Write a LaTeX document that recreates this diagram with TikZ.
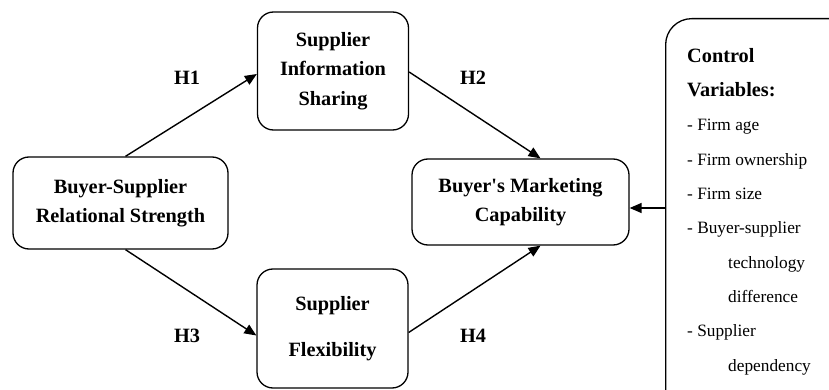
\documentclass[tikz,border=0pt]{standalone}
\usepackage{fontspec}
\setmainfont{Liberation Serif}
\usetikzlibrary{arrows.meta}
\begin{document}
\begin{tikzpicture}[x=1pt,y=-1pt,
  box/.style={draw, line width=1.3pt, rounded corners=16pt, align=center,
    font=\bfseries\fontsize{20.3}{29.5}\selectfont},
  arr/.style={line width=1.4pt, -{Triangle[length=12pt,width=10pt]}},
  hyp/.style={font=\bfseries\fontsize{20.3}{24}\selectfont},
  ctrltext/.style={align=left, inner sep=0pt,
    font=\fontsize{17.3}{34.3}\selectfont}]
  \useasboundingbox (0,0) rectangle (829,390);
  \clip (0,0) rectangle (829,390);

  % model constructs
  \node[box, minimum width=151pt, minimum height=118pt] (sis) at (333,71)
    {Supplier\\Information\\Sharing};
  \node[box, minimum width=215pt, minimum height=92pt] (bsr) at (120.5,203)
    {Buyer-Supplier\\Relational Strength};
  \node[box, minimum width=151pt, minimum height=119pt] (sf) at (332.5,328.5)
    {Supplier\\[17pt]Flexibility};
  \node[box, minimum width=217pt, minimum height=86pt] (bmc) at (520.5,202)
    {Buyer\textquotesingle s Marketing\\Capability};

  % control variables panel (runs past the right and bottom edges)
  \node[draw, line width=1.3pt, rounded corners=26pt, anchor=north west,
    minimum width=220pt, minimum height=420pt] (ctrl) at (665,18) {};
  % base anchor sits on the last line's baseline
  \node[ctrltext, anchor=base west] (ctrlvars) at (687,371)
    {{\bfseries\fontsize{20.3}{34.3}\selectfont Control}\\
     {\bfseries\fontsize{20.3}{34.3}\selectfont Variables:}\\
     - Firm age\\
     - Firm ownership\\
     - Firm size\\
     - Buyer-supplier\\
     \hspace*{41pt}technology\\
     \hspace*{41pt}difference\\
     - Supplier\\
     \hspace*{41pt}dependency};

  % hypothesised paths
  \draw[arr] ([xshift=5pt]bsr.north) -- ([yshift=-3pt]sis.west);
  \draw[arr] ([yshift=-1pt]sis.east) -- ([xshift=20pt]bmc.north);
  \draw[arr] ([xshift=5pt]bsr.south) -- ([yshift=-7pt]sf.west);
  \draw[arr] ([yshift=-4pt]sf.east) -- ([xshift=20pt]bmc.south);
  \coordinate (ctrlin) at ([yshift=-6pt]bmc.east);
  \draw[arr] (ctrl.west |- ctrlin) -- (ctrlin);

  \node[hyp] (h1) at (187,78) {H1};
  \node[hyp] (h2) at (473,78) {H2};
  \node[hyp] (h3) at (187,336) {H3};
  \node[hyp] (h4) at (473,336) {H4};
\end{tikzpicture}
\end{document}
